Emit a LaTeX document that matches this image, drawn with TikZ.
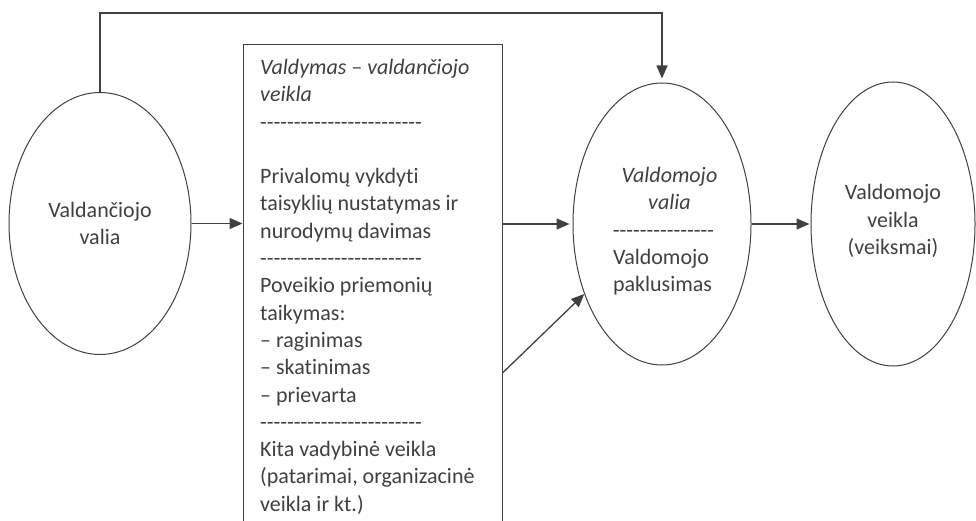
\documentclass[tikz,border=0pt]{standalone}
\usepackage{fontspec}
\setmainfont{Carlito}[Ligatures={TeXOff,NoCommon}]
\usetikzlibrary{shapes}
\usetikzlibrary{arrows.meta}
\definecolor{ink}{HTML}{404040}

\begin{document}
\begin{tikzpicture}[x=1pt,y=1pt]
		\tikzstyle{every node}=[font=\fontsize{22}{27.3}\selectfont,text=ink]
		\tikzstyle{will}=[ellipse,draw=ink,line width=1pt,inner sep=0pt]
		\tikzstyle{arr}=[draw=ink,line width=1.3pt,-{Triangle[length=13pt,width=11pt]}]
		\useasboundingbox (0,0) rectangle (976,520);
		
		\node[will,minimum width=182,minimum height=262,align=center](vl) at (100,296.5) {Valdančiojo\\valia};
		\node[draw=ink,line width=1pt,minimum width=259,minimum height=495,inner sep=0pt](box) at (372.5,227.5) {};
		\node[anchor=north west,align=left,inner sep=0pt](boxtxt) at (260,461) {\textit{Valdymas – valdančiojo}\\\textit{veikla}\\------------------------\\\mbox{}\\Privalomų vykdyti\\taisyklių nustatymas ir\\nurodymų davimas\\------------------------\\Poveikio priemonių\\taikymas:\\– raginimas\\– skatinimas\\– prievarta\\------------------------\\Kita vadybinė veikla\\(patarimai, organizacinė\\veikla ir kt.)};
		\node[will,minimum width=178,minimum height=282](vm) at (662,296) {};
		\node[anchor=north,align=center,inner sep=0pt](vmtxt) at (663.5,353) {\hspace*{12pt}\textit{Valdomojo}\\\hspace*{12pt}\textit{valia}\\---------------\\\makebox[101pt][l]{Valdomojo}\\\makebox[101pt][l]{paklusimas}};
		\node[will,minimum width=164,minimum height=284,align=center](vv) at (893,296) {Valdomojo\\veikla\\(veiksmai)\rule[-9pt]{0pt}{9pt}};
		
		\coordinate (topline) at (0,507);
		\draw[arr,shorten >=4pt] (vl.north) |- (vm.north |- topline) -- (vm.north);
		\draw[arr] (vl.east) -- (vl.east -| box.west);
		\draw[arr,shorten >=3pt] (vm.west -| box.east) -- (vm.west);
		\draw[arr] ([yshift=-80.5pt]box.east) -- (vm.222);
		\draw[arr,shorten >=1pt] (vm.east) -- (vm.east -| vv.west);
\end{tikzpicture}
\end{document}
